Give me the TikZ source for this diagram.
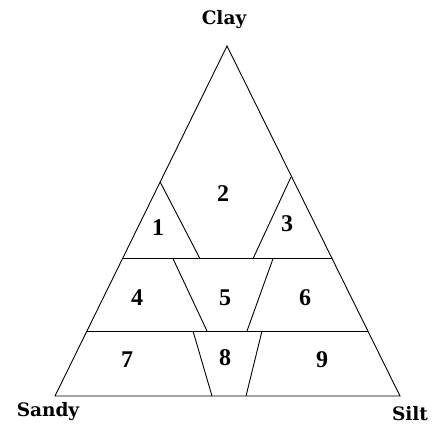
\documentclass[tikz,border=0pt]{standalone}
\usepackage{fontspec}
\setmainfont{Liberation Serif}
\newfontfamily\cornerfont{DejaVu Serif}
\begin{document}
\begin{tikzpicture}[x=1pt, y=-1pt, line width=0.9pt,
  corner/.style={font=\cornerfont\bfseries\fontsize{18.5}{18.5}\selectfont},
  zone/.style={font=\bfseries\fontsize{24}{24}\selectfont}]
  \useasboundingbox (0,0) rectangle (435,428);

  % outer triangle
  \coordinate (apex) at (227,46);
  \coordinate (sw) at (55,396);
  \coordinate (se) at (400,396);
  \draw (apex) -- (sw) -- (se) -- cycle;

  % horizontal bands
  \draw (123,258.7) -- (332,258.7);
  \draw (87,331) -- (368,331);

  % top band
  \draw (160,181.7) -- (200,258.7);
  \draw (291,177) -- (253,258.7);

  % middle band
  \draw (173,258.7) -- (207,331);
  \draw (273,258.7) -- (247,331);

  % bottom band
  \draw (193,331) -- (212,396);
  \draw (262,331) -- (246,396);

  % corner names
  \node[corner] (clay) at (224,20) {Clay};
  \node[corner] (sandy) at (48,412) {Sandy};
  \node[corner] (silt) at (410,414) {Silt};

  % zone numbers
  \node[zone] (z1) at (158,228) {1};
  \node[zone] (z2) at (223,194) {2};
  \node[zone] (z3) at (287,224) {3};
  \node[zone] (z4) at (137,298) {4};
  \node[zone] (z5) at (225,298) {5};
  \node[zone] (z6) at (305,298) {6};
  \node[zone] (z7) at (127,360) {7};
  \node[zone] (z8) at (225,358) {8};
  \node[zone] (z9) at (322,360) {9};
\end{tikzpicture}
\end{document}
